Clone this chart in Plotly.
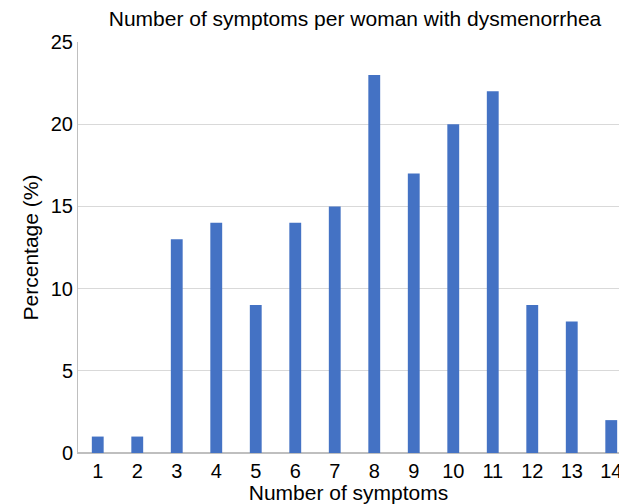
import plotly.graph_objects as go

categories = [str(i) for i in range(1, 15)]
percentages = [1, 1, 13, 14, 9, 14, 15, 23, 17, 20, 22, 9, 8, 2]
y_ticks = [0, 5, 10, 15, 20, 25]

fig = go.Figure(go.Bar(x=list(range(1, 15)), y=percentages, marker_color="#4472C4",
                       marker_line_width=0, cliponaxis=True))

fig.update_layout(
    width=619, height=504,
    margin=dict(l=78, r=0, t=42, b=51, autoexpand=False),
    paper_bgcolor="white", plot_bgcolor="white",
    font=dict(family="Liberation Sans, Arial, sans-serif", color="#000000", size=19),
    bargap=0.7,
    showlegend=False,
    title=dict(text="Number of symptoms per woman with dysmenorrhea",
               x=355/619, xref="container", xanchor="center",
               y=1-19/504, yref="container", yanchor="middle",
               font=dict(size=21), automargin=False),
)
fig.update_xaxes(
    range=[0.5, 14.5 - 12/39.5],
    tickmode="array", tickvals=list(range(1, 15)), ticktext=categories,
    showline=True, linecolor="#BFBFBF", linewidth=1,
    showgrid=False, ticks="", tickfont=dict(size=20),
    ticklabeloverflow="allow",
    automargin=False,
    title=dict(text="Number of symptoms", font=dict(size=21), standoff=4),
)
fig.update_yaxes(
    range=[0, 25], tickvals=y_ticks,
    showline=True, linecolor="#BFBFBF", linewidth=1,
    showgrid=True, gridcolor="#D9D9D9", gridwidth=1,
    zeroline=True, zerolinecolor="#BFBFBF",
    ticks="", tickfont=dict(size=20), automargin=False,
    title=dict(text="Percentage (%)", font=dict(size=21), standoff=6),
)

fig.write_html("out.html", post_script="document.body.style.margin='0';",
               config={"displayModeBar": False})
